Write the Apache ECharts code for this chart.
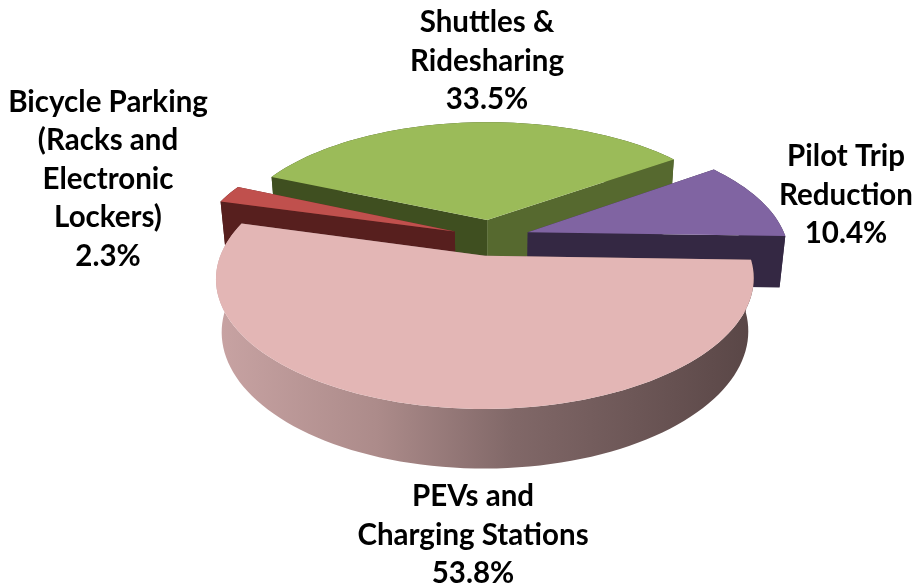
<!DOCTYPE html>
<html>
<head>
<meta charset="utf-8">
<title>Pie</title>
<style>
html, body { margin: 0; padding: 0; background: #fff; }
#chart { width: 916px; height: 587px; }
</style>
<script src="https://cdn.jsdelivr.net/npm/echarts@6/dist/echarts.min.js"></script>
</head>
<body>
<div id="chart"></div>
<script>
// clockwise from the right hand side of the disc
var categories = ['PEVs and\nCharging Stations', 'Bicycle Parking\n(Racks and\nElectronic\nLockers)', 'Shuttles &\nRidesharing', 'Pilot Trip\nReduction'];
var shares = [53.8, 2.3, 33.5, 10.4];

var topColors = ['#e3b6b5', '#c0504d', '#9bbb59', '#8064a2'];
var startWallColors = ['#7a6060', '#571f1e', '#3f4f20', '#3b2e4d'];
var endWallColors = ['#7a6060', '#6b2a28', '#56692f', '#342843'];
var labelPos = [[473, 535], [108, 179], [487, 61], [846, 195]];

var chart = echarts.init(document.getElementById('chart'), null, { renderer: 'canvas' });

var cx = 491, cy = 237.5;
var rx = 258, ry = 120;
var persp = 0.171;   // front of the disc is nearer
var thick = 52.5, thickPersp = 0.02;
var explode = 0.15;
var startDeg = 1.8;

function project(u, v, h) {
    var w = 1 - persp * v + thickPersp * h;
    return [cx + rx * u / w, cy + (ry * v + thick * h) / w];
}

function arcPoints(ou, ov, a0, a1, h) {
    var pts = [];
    var n = Math.max(2, Math.ceil((a1 - a0) / 2));
    for (var i = 0; i <= n; i++) {
        var a = (a0 + (a1 - a0) * i / n) * Math.PI / 180;
        pts.push(project(ou + Math.cos(a), ov + Math.sin(a), h));
    }
    return pts;
}

function poly(points, fill, z) {
    return { type: 'polygon', z2: z, shape: { points: points }, style: { fill: fill } };
}

var total = shares.reduce(function (a, b) { return a + b; }, 0);

function renderSlice(params, api) {
    var idx = params.dataIndex;
    var before = 0;
    for (var i = 0; i < idx; i++) before += shares[i];
    var a0 = startDeg + before / total * 360;
    var a1 = a0 + api.value(1) / total * 360;
    var mid = (a0 + a1) / 2 * Math.PI / 180;
    var ou = explode * Math.cos(mid), ov = explode * Math.sin(mid);
    // back to front by the direction the slice is pulled
    var z = Math.round(Math.sin(mid) * 100) * 10 + 2000;

    var top = arcPoints(ou, ov, a0, a1, 0);
    var bottom = arcPoints(ou, ov, a0, a1, 1);
    var apexTop = project(ou, ov, 0), apexBottom = project(ou, ov, 1);
    var outerWall = top.concat(bottom.slice().reverse());
    var outerFill = idx === 0 ? new echarts.graphic.LinearGradient(0, 0, 1, 0, [
        { offset: 0, color: '#c8a3a3' },
        { offset: 0.3, color: '#ac8b8a' },
        { offset: 0.55, color: '#816868' },
        { offset: 1, color: '#594646' }
    ]) : startWallColors[idx];

    // the radial wall further back goes first
    var startFirst = Math.sin(a0 * Math.PI / 180) < Math.sin(a1 * Math.PI / 180);

    return {
        type: 'group',
        children: [
            poly(outerWall, outerFill, z),
            poly([apexTop, top[top.length - 1], bottom[bottom.length - 1], apexBottom], endWallColors[idx], z + (startFirst ? 2 : 1)),
            poly([apexTop, top[0], bottom[0], apexBottom], startWallColors[idx], z + (startFirst ? 1 : 2)),
            poly([apexTop].concat(top), topColors[idx], z + 3),
            {
                type: 'text',
                z2: 9000,
                style: {
                    x: labelPos[idx][0],
                    y: labelPos[idx][1],
                    text: categories[idx] + '\n' + api.value(1).toFixed(1) + '%',
                    align: 'center',
                    verticalAlign: 'middle',
                    fill: '#000',
                    font: 'bold 29.5px Lato',
                    lineHeight: 38.5
                }
            }
        ]
    };
}

chart.setOption({
    backgroundColor: '#ffffff',
    animation: false,
    series: [{
        type: 'custom',
        coordinateSystem: 'none',
        renderItem: renderSlice,
        data: categories.map(function (name, i) { return [name, shares[i]]; }),
        encode: { itemName: 0, value: 1 }
    }]
});
</script>
</body>
</html>
